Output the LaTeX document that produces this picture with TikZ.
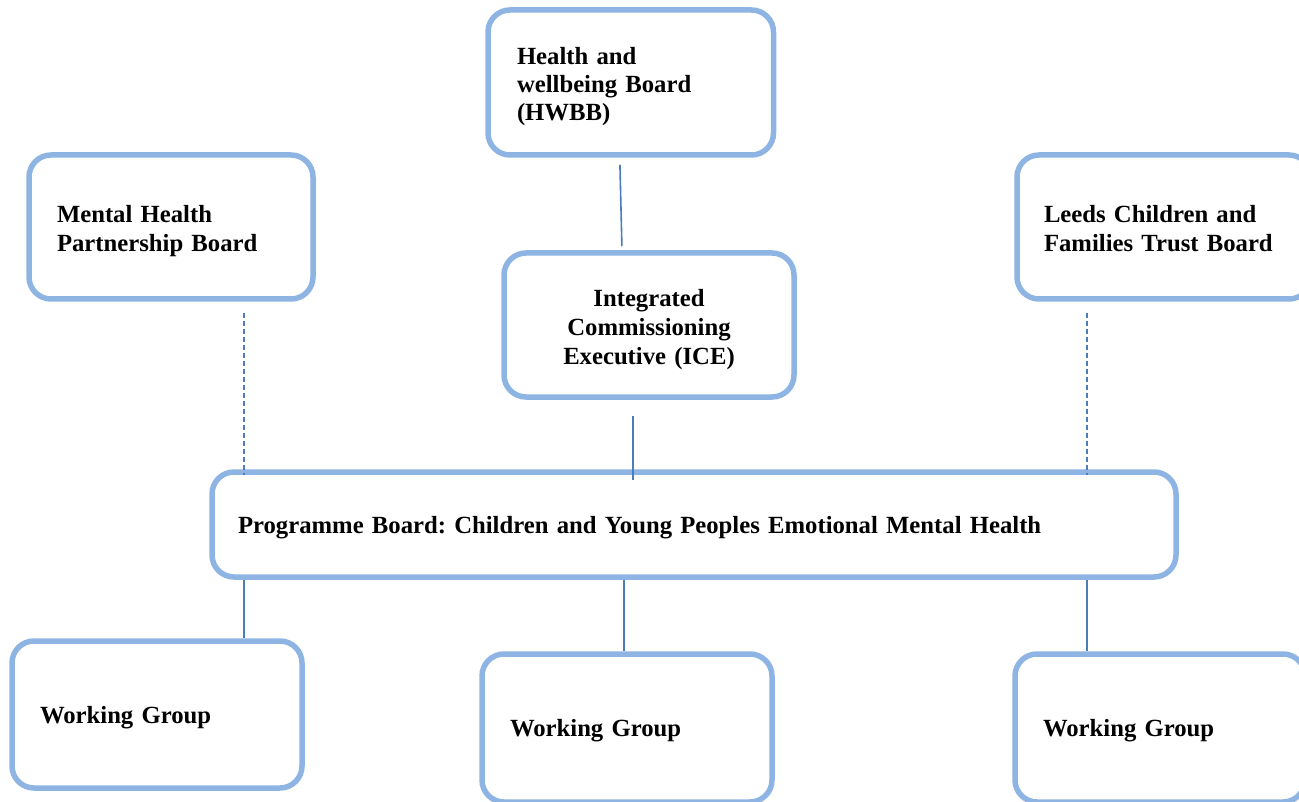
\documentclass[tikz,border=0pt]{standalone}
\usepackage{fontspec}
\setmainfont{Liberation Serif}
\usetikzlibrary{calc}

\definecolor{boxblue}{RGB}{142,180,227}
\definecolor{linkblue}{RGB}{74,126,187}

\begin{document}
\frenchspacing
\begin{tikzpicture}[
  x=1pt,y=-1pt,
  box/.style={draw=boxblue,line width=5.5pt,rounded corners=22pt,
    inner xsep=28pt,inner ysep=0pt,align=left,text depth=-3pt,
    font=\fontsize{24.7}{28.3}\selectfont\bfseries},
  twolines/.style={text depth=25.3pt},
  threelines/.style={text depth=53.6pt},
  link/.style={draw=linkblue,line width=1.6pt},
  dashlink/.style={link,dash pattern=on 5pt off 3pt}
]
  \clip (0,0) rectangle (1299,802);

  % Boards on top
  \node[box,threelines,text width=227.5pt,inner xsep=29pt,minimum height=145pt] (hwbb) at (630.75,82.5)
    {Health and\\wellbeing Board\\(HWBB)};
  \node[box,twolines,text width=228pt,minimum height=144pt] (mhpb) at (171,227)
    {Mental Health\\Partnership Board};
  \node[box,twolines,text width=240pt,inner xsep=27pt,minimum height=144pt] (lcftb) at (1164,227)
    {Leeds Children and\\Families Trust Board};
  \node[box,text width=250pt,inner xsep=20pt,align=center,minimum height=144pt,
    font=\fontsize{24.7}{29}\selectfont\bfseries,text depth=55pt] (ice) at (649,325)
    {Integrated\\Commissioning\\Executive (ICE)};

  % Programme board
  \node[box,text width=912pt,inner xsep=26pt,minimum height=105pt] (prog) at (694,524.5)
    {Programme Board: Children and Young Peoples Emotional Mental Health};

  % Working groups
  \node[box,text width=234pt,minimum height=147pt] (wgA) at (157,714.5) {Working Group};
  \node[box,text width=234pt,minimum height=148pt] (wgB) at (627,728) {Working Group};
  \node[box,text width=234pt,minimum height=148pt] (wgC) at (1160,728) {Working Group};

  % columns for the vertical links
  \coordinate (colL) at (244,0);
  \coordinate (colI) at (633,0);
  \coordinate (colM) at (624,0);
  \coordinate (colR) at (1087,0);

  \draw[link,shorten <=7pt,shorten >=4pt] ([xshift=-11pt]hwbb.south) -- ([xshift=-27pt]ice.north);
  \draw[link,shorten <=16pt,shorten >=-11pt] (ice.south -| colI) -- (prog.north -| colI);
  \draw[dashlink,shorten <=11pt,shorten >=-6pt] (mhpb.south -| colL) -- (prog.north -| colL);
  \draw[dashlink,shorten <=11pt,shorten >=-6pt] (lcftb.south -| colR) -- (prog.north -| colR);

  \draw[link] (prog.south -| colL) -- (wgA.north -| colL);
  \draw[link] (prog.south -| colM) -- (wgB.north -| colM);
  \draw[link] (prog.south -| colR) -- (wgC.north -| colR);
\end{tikzpicture}
\end{document}
